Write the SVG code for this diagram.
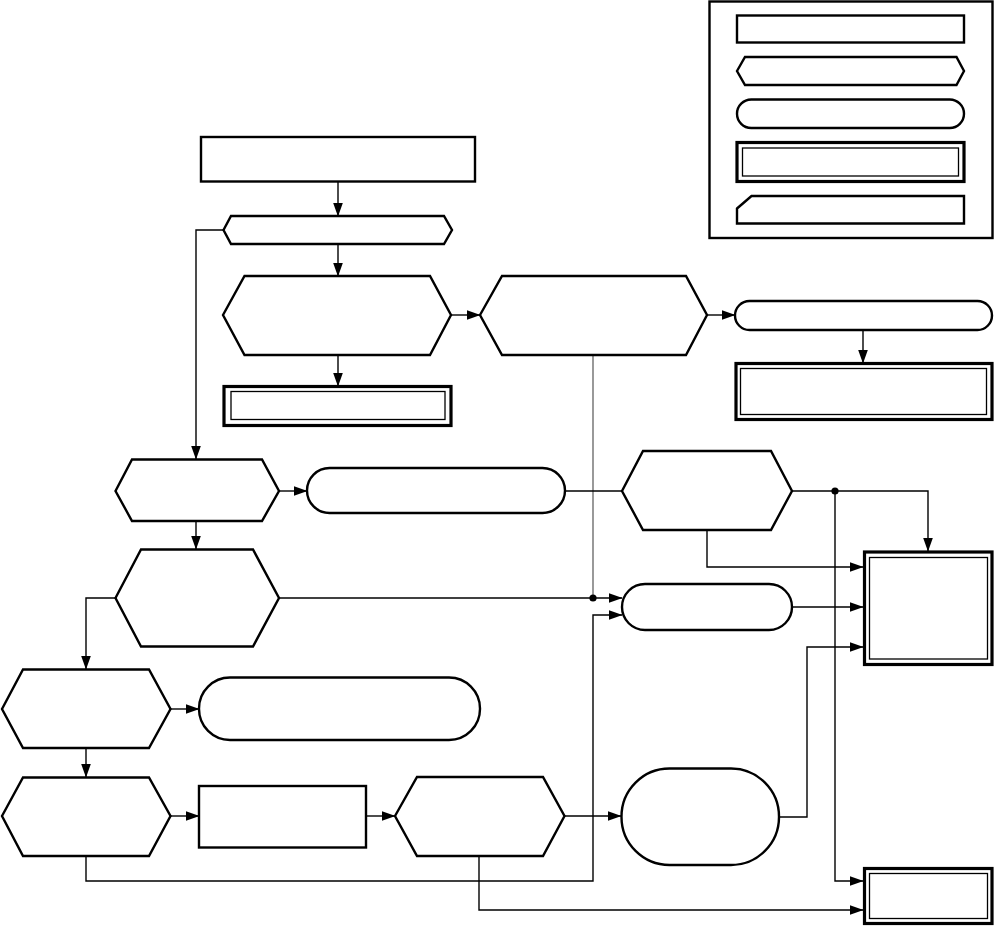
<svg xmlns="http://www.w3.org/2000/svg" width="994" height="926" viewBox="0 0 994 926">
<style>
.n{fill:#fff;stroke:#000;stroke-width:2.4;stroke-linejoin:miter}
.dbo{fill:#fff;stroke:#000;stroke-width:3.2}
.dbi{fill:none;stroke:#000;stroke-width:1.3}
.c{fill:none;stroke:#000;stroke-width:1.4}
.g{fill:none;stroke:#808080;stroke-width:1.6}
.a{marker-end:url(#ah)}
.dot{fill:#000}
</style>
<defs>
<marker id="ah" markerWidth="15" markerHeight="11" refX="13.5" refY="5" orient="auto" markerUnits="userSpaceOnUse">
<path d="M0,0 L14,5 L0,10 z" fill="#000"/>
</marker>
</defs>
<rect x="0" y="0" width="994" height="926" fill="#fff"/>

<g id="legend">
<rect class="n" x="709.5" y="1.5" width="283" height="236.5"/>
<rect class="n" x="737" y="15.5" width="227" height="27"/>
<polygon class="n" points="737,71 745,57 956.5,57 964,71 956.5,85 745,85"/>
<rect class="n" x="737" y="99.5" width="227" height="28.5" rx="14.25" ry="14.25"/>
<rect class="dbo" x="737" y="142.5" width="227" height="39"/>
<rect class="dbi" x="742.5" y="148" width="216" height="28"/>
<polygon class="n" points="737,208.5 751.5,196 964,196 964,223.5 737,223.5"/>
</g>

<g id="connectors">
<path class="c a" d="M338,181 V216"/>
<path class="c a" d="M338,244 V276"/>
<path class="c a" d="M223,230 H196 V459"/>
<path class="c a" d="M451,315 H480"/>
<path class="c a" d="M338,355 V386"/>
<path class="c a" d="M707,315 H735"/>
<path class="c a" d="M863,330 V363"/>
<path class="g" d="M593,355 V598"/>
<path class="c a" d="M279,491 H307"/>
<path class="c a" d="M196,521 V549"/>
<path class="c" d="M565,491 H622"/>
<path class="c a" d="M792,491 H928 V551"/>
<path class="c a" d="M707,530 V567 H863"/>
<path class="c a" d="M279,598 H622"/>
<path class="c a" d="M115,598 H86 V669"/>
<path class="c a" d="M792,607 H863"/>
<path class="c a" d="M171,709 H199"/>
<path class="c a" d="M86,748 V777"/>
<path class="c a" d="M171,816 H199"/>
<path class="c a" d="M366,816 H395"/>
<path class="c a" d="M564,816 H621"/>
<path class="c a" d="M779,817 H807 V647 H863"/>
<path class="c a" d="M86,856 V881 H593 V615 H622"/>
<path class="c a" d="M479,856 V910 H863"/>
<path class="c a" d="M835,491 V881 H863"/>
<circle class="dot" cx="593" cy="598" r="3.6"/>
<circle class="dot" cx="835" cy="491" r="3.6"/>
</g>

<g id="nA"><rect class="n" x="201" y="137" width="274" height="44.5"/></g>
<g id="nB"><polygon class="n" points="223.5,230 231,216 444,216 452,230 444,244 231,244"/></g>
<g id="nC"><polygon class="n" points="223,315 244.5,276 430,276 451,315 430,355 244.5,355"/></g>
<g id="nE"><polygon class="n" points="480,315 502,276 686,276 707,315 686,355 502,355"/></g>
<g id="nF"><rect class="dbo" x="224" y="386.5" width="227" height="39"/><rect class="dbi" x="231" y="391.5" width="214" height="28"/></g>
<g id="nG"><rect class="n" x="735" y="301" width="257" height="29" rx="14.5" ry="14.5"/></g>
<g id="nH"><rect class="dbo" x="736" y="363.5" width="256" height="56"/><rect class="dbi" x="740.5" y="368.5" width="246" height="46"/></g>
<g id="nD"><polygon class="n" points="115.5,491 132,459.5 262,459.5 279,491 262,521 132,521"/></g>
<g id="nI"><rect class="n" x="307" y="468" width="258" height="45" rx="22.5" ry="22.5"/></g>
<g id="nM"><polygon class="n" points="622,491 643,451 771,451 792,491 771,530 643,530"/></g>
<g id="nJ"><polygon class="n" points="115.5,598 141,549.5 253,549.5 279,598 253,646.5 141,646.5"/></g>
<g id="nK"><rect class="n" x="622" y="584" width="170" height="46" rx="23" ry="23"/></g>
<g id="nN"><rect class="dbo" x="864.5" y="552" width="127.5" height="112.5"/><rect class="dbi" x="869.5" y="557.5" width="118" height="101.5"/></g>
<g id="nL"><polygon class="n" points="2,709 23,669.5 149,669.5 170.5,709 149,748 23,748"/></g>
<g id="nQ"><rect class="n" x="199" y="677.5" width="281" height="62.5" rx="31" ry="31"/></g>
<g id="nR"><polygon class="n" points="2,816 23,777.5 149,777.5 170.5,816 149,856 23,856"/></g>
<g id="nS"><rect class="n" x="199" y="786" width="167" height="61.5"/></g>
<g id="nT"><polygon class="n" points="395,816 417,777 543,777 564.5,816 543,856 417,856"/></g>
<g id="nP"><rect class="n" x="621.5" y="768.5" width="157.5" height="96.5" rx="48" ry="48"/></g>
<g id="nO"><rect class="dbo" x="864.5" y="868.5" width="127.5" height="55"/><rect class="dbi" x="869.5" y="873.5" width="118" height="45"/></g>
</svg>
